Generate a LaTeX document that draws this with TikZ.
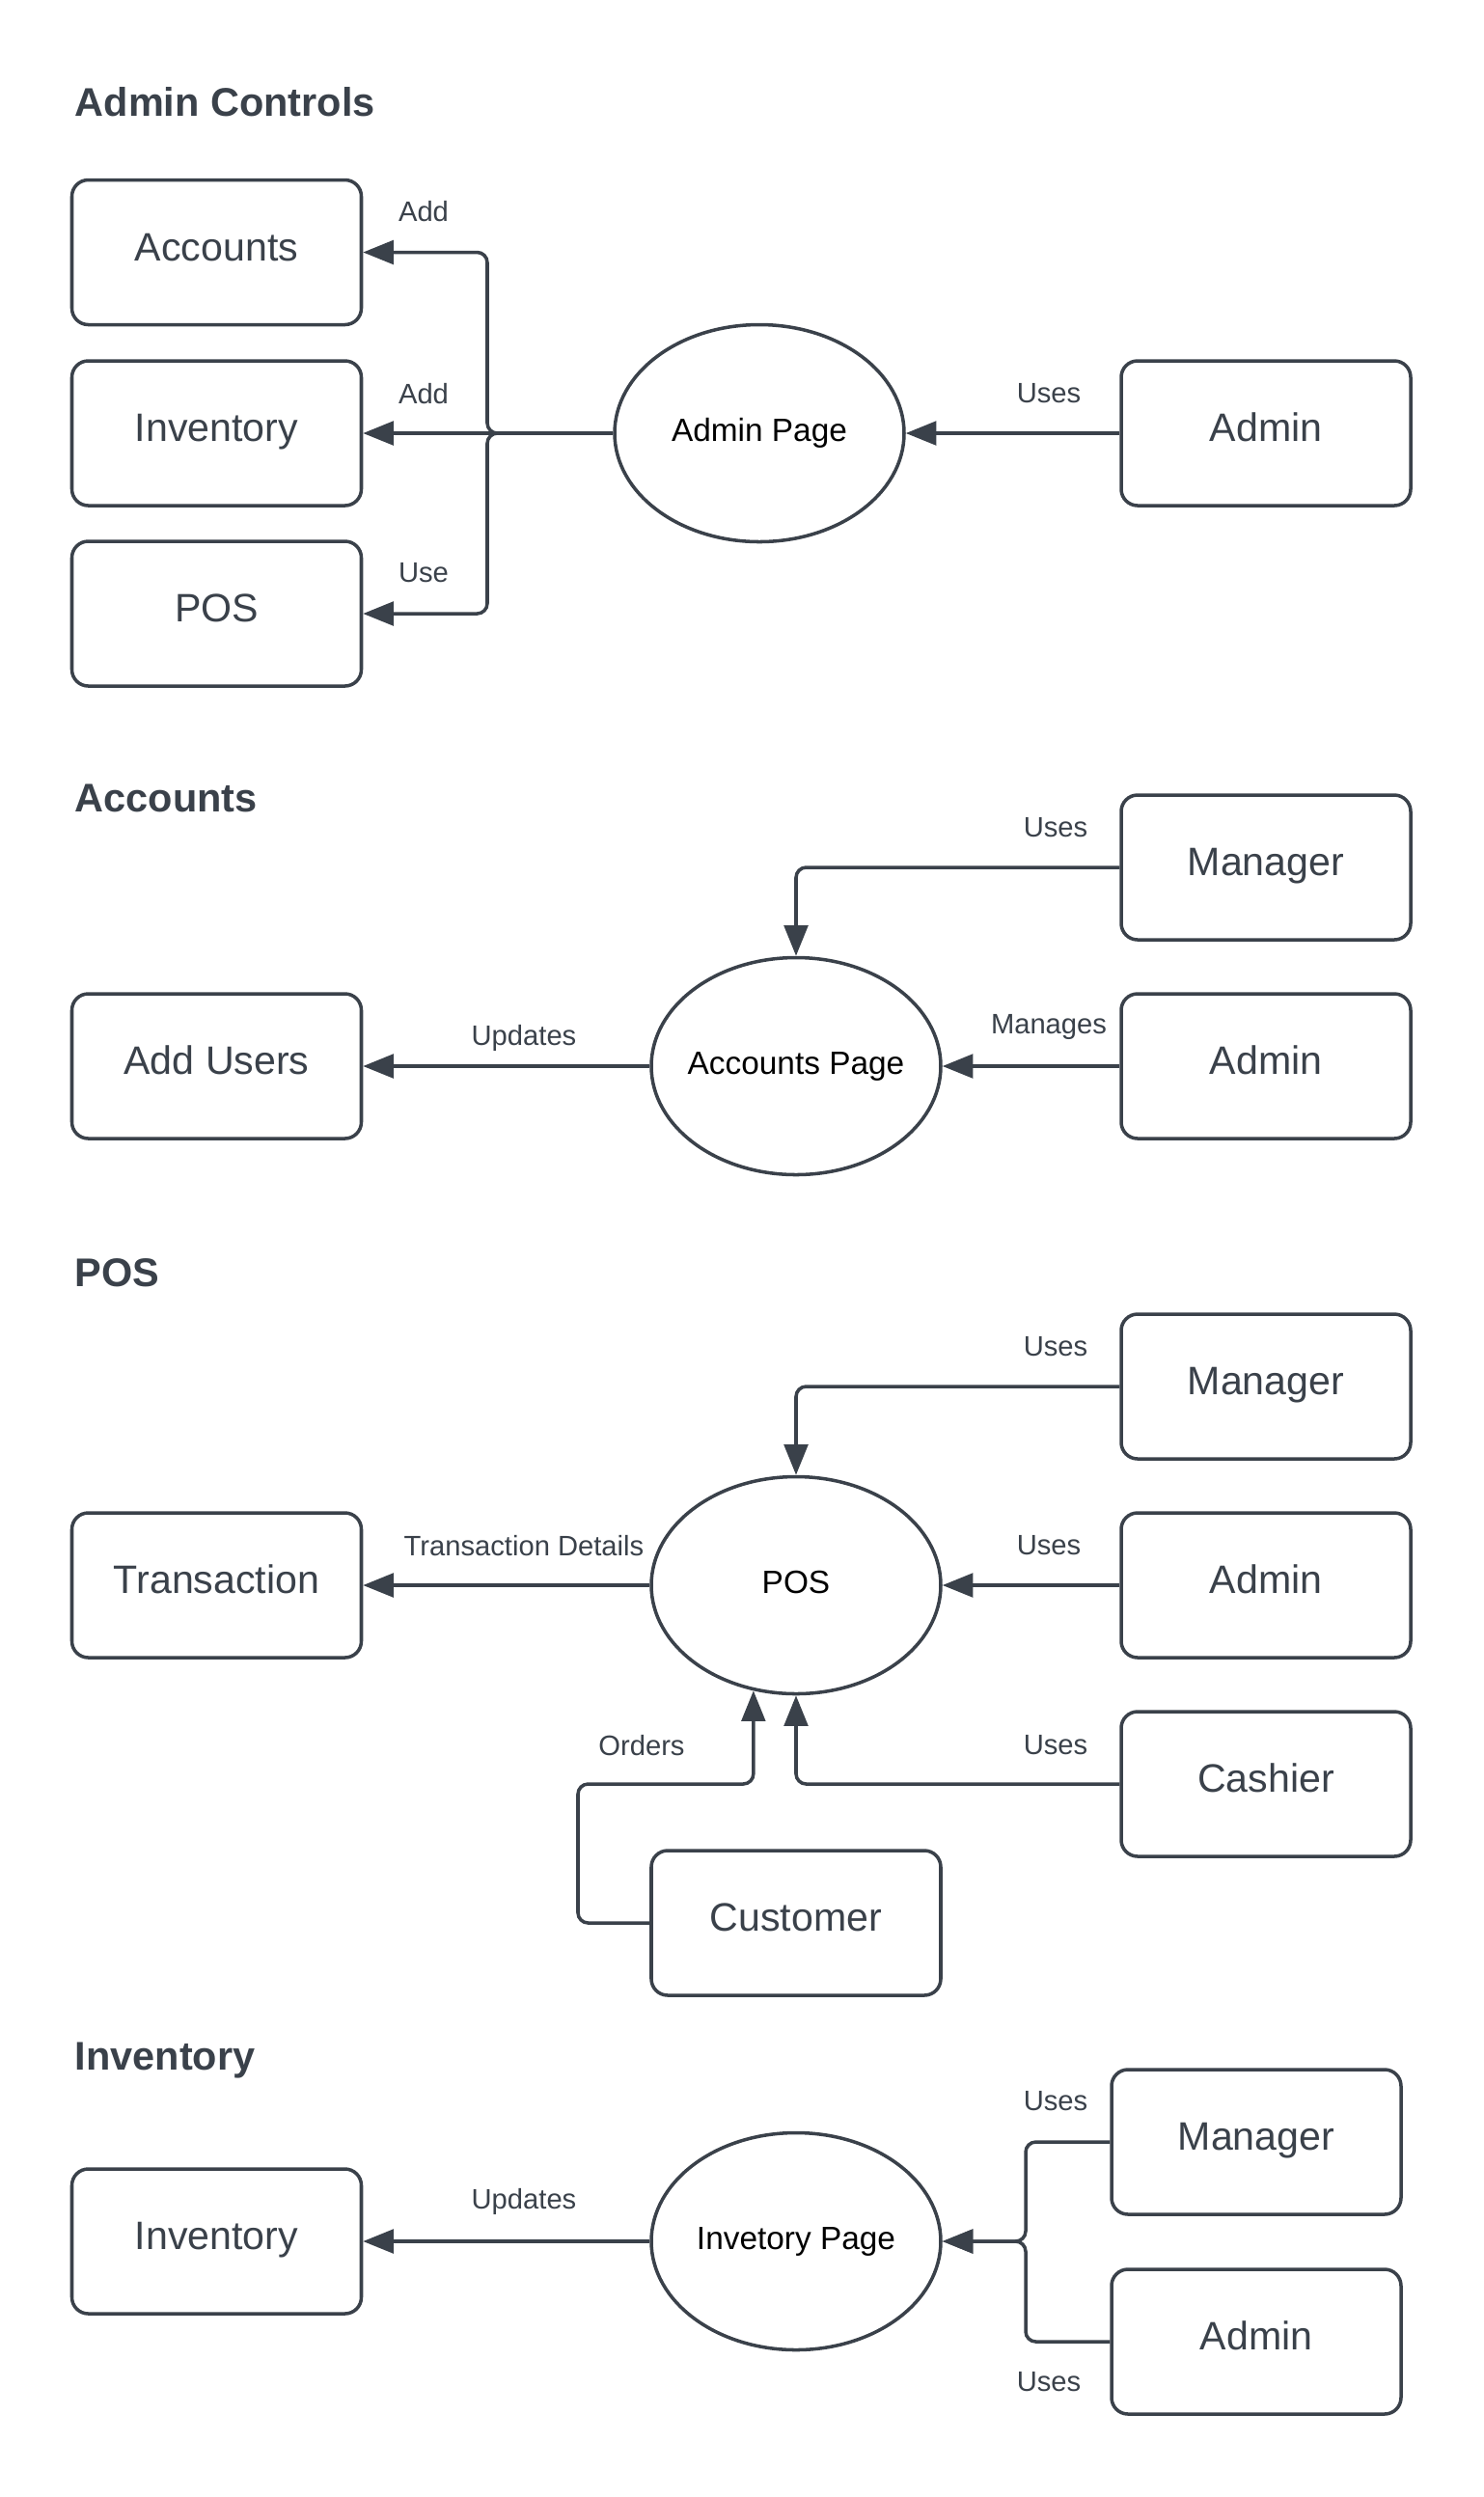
\documentclass[tikz,border=0pt]{standalone}
\usepackage{fontspec}
\setmainfont{Liberation Sans}
\usepackage{xcolor}
\usetikzlibrary{shapes.geometric,arrows.meta,positioning,calc}
\definecolor{ink}{HTML}{3A414A}

\begin{document}
\begin{tikzpicture}[
    line width=1pt,
    box/.style={draw=ink, rounded corners=0.17cm, minimum width=3cm, minimum height=1.5cm, text height=0.72em, text depth=0.21em, text=ink, font=\fontsize{11.7}{14}\selectfont},
    page/.style={draw=ink, ellipse, minimum width=3cm, minimum height=2.25cm, inner xsep=-0.2cm, inner ysep=0pt, text height=0.72em, text depth=0.21em, font=\fontsize{9.5}{11}\selectfont},
    lbl/.style={text=ink, inner sep=0pt, font=\fontsize{8.3}{10}\selectfont},
    title/.style={anchor=base west, text=ink, inner sep=0pt, font=\bfseries\fontsize{11.8}{14}\selectfont},
    arr/.style={draw=ink, -{Triangle[length=9pt,width=7pt]}, rounded corners=3pt}
]
    \useasboundingbox (0,0) rectangle (15.38,-25.88);

    % Admin Controls
    \node[title] (t1) at (0.76,-1.205) {Admin Controls};
    \node[box] (acc1) at (2.245,-2.615) {Accounts};
    \node[box] (inv1) at (2.245,-4.49) {Inventory};
    \node[box] (pos1) at (2.245,-6.36) {POS};
    \node[page] (apage) at (7.87,-4.49) {Admin Page};
    \node[box] (adm1) at (13.12,-4.49) {Admin};
    \coordinate (j1) at (5.05,-4.49);
    \draw[arr] (adm1) -- (apage);
    \draw[arr] (apage) -- (inv1);
    \draw[arr] (apage.west) -- (j1) |- (acc1.east);
    \draw[arr] (apage.west) -- (j1) |- (pos1.east);
    \node[lbl] (add1) at (4.39,-2.195) {Add};
    \node[lbl] (add2) at (4.39,-4.08) {Add};
    \node[lbl] (use1) at (4.39,-5.94) {Use};
    \node[lbl] (uses1) at (10.87,-4.08) {Uses};

    % Accounts
    \node[title] (t2) at (0.76,-8.415) {Accounts};
    \node[box] (man2) at (13.12,-8.99) {Manager};
    \node[page] (ppage) at (8.25,-11.05) {Accounts Page};
    \node[box] (adm2) at (13.12,-11.05) {Admin};
    \node[box] (addu) at (2.245,-11.05) {Add Users};
    \draw[arr] (man2) -| (ppage);
    \draw[arr] (adm2) -- (ppage);
    \draw[arr] (ppage) -- (addu);
    \node[lbl] (uses2) at (10.94,-8.58) {Uses};
    \node[lbl] (mng2) at (10.87,-10.64) {Manages};
    \node[lbl] (upd2) at (5.43,-10.76) {Updates};

    % POS
    \node[title] (t3) at (0.76,-13.33) {POS};
    \node[box] (man3) at (13.12,-14.37) {Manager};
    \node[page] (pos) at (8.25,-16.43) {POS};
    \node[box] (adm3) at (13.12,-16.43) {Admin};
    \node[box] (trans) at (2.245,-16.43) {Transaction};
    \node[box] (cash) at (13.12,-18.49) {Cashier};
    \node[box] (cust) at (8.25,-19.93) {Customer};
    \coordinate (ordbend) at (5.99,-18.49);
    \draw[arr] (man3) -| (pos);
    \draw[arr] (adm3) -- (pos);
    \draw[arr] (pos) -- (trans);
    \draw[arr] (cash) -| (pos);
    \draw[arr] (cust) -| (ordbend) -| (pos.248);
    \node[lbl] (uses3a) at (10.94,-13.96) {Uses};
    \node[lbl] (uses3b) at (10.87,-16.02) {Uses};
    \node[lbl] (tdet) at (5.43,-16.02) {Transaction Details};
    \node[lbl] (uses3c) at (10.94,-18.09) {Uses};
    \node[lbl] (ord) at (6.65,-18.09) {Orders};

    % Inventory
    \node[title] (t4) at (0.76,-21.45) {Inventory};
    \node[box] (man4) at (13.02,-22.20) {Manager};
    \node[box] (adm4) at (13.02,-24.27) {Admin};
    \node[page] (ipage) at (8.25,-23.23) {Invetory Page};
    \node[box] (inv4) at (2.245,-23.23) {Inventory};
    \coordinate (j4) at (10.63,-23.23);
    \draw[arr] (ipage) -- (inv4);
    \draw[arr] (man4) -| (j4) -- (ipage);
    \draw[arr] (adm4) -| (j4) -- (ipage);
    \node[lbl] (uses4a) at (10.94,-21.78) {Uses};
    \node[lbl] (uses4b) at (10.87,-24.69) {Uses};
    \node[lbl] (upd4) at (5.43,-22.82) {Updates};
\end{tikzpicture}
\end{document}
